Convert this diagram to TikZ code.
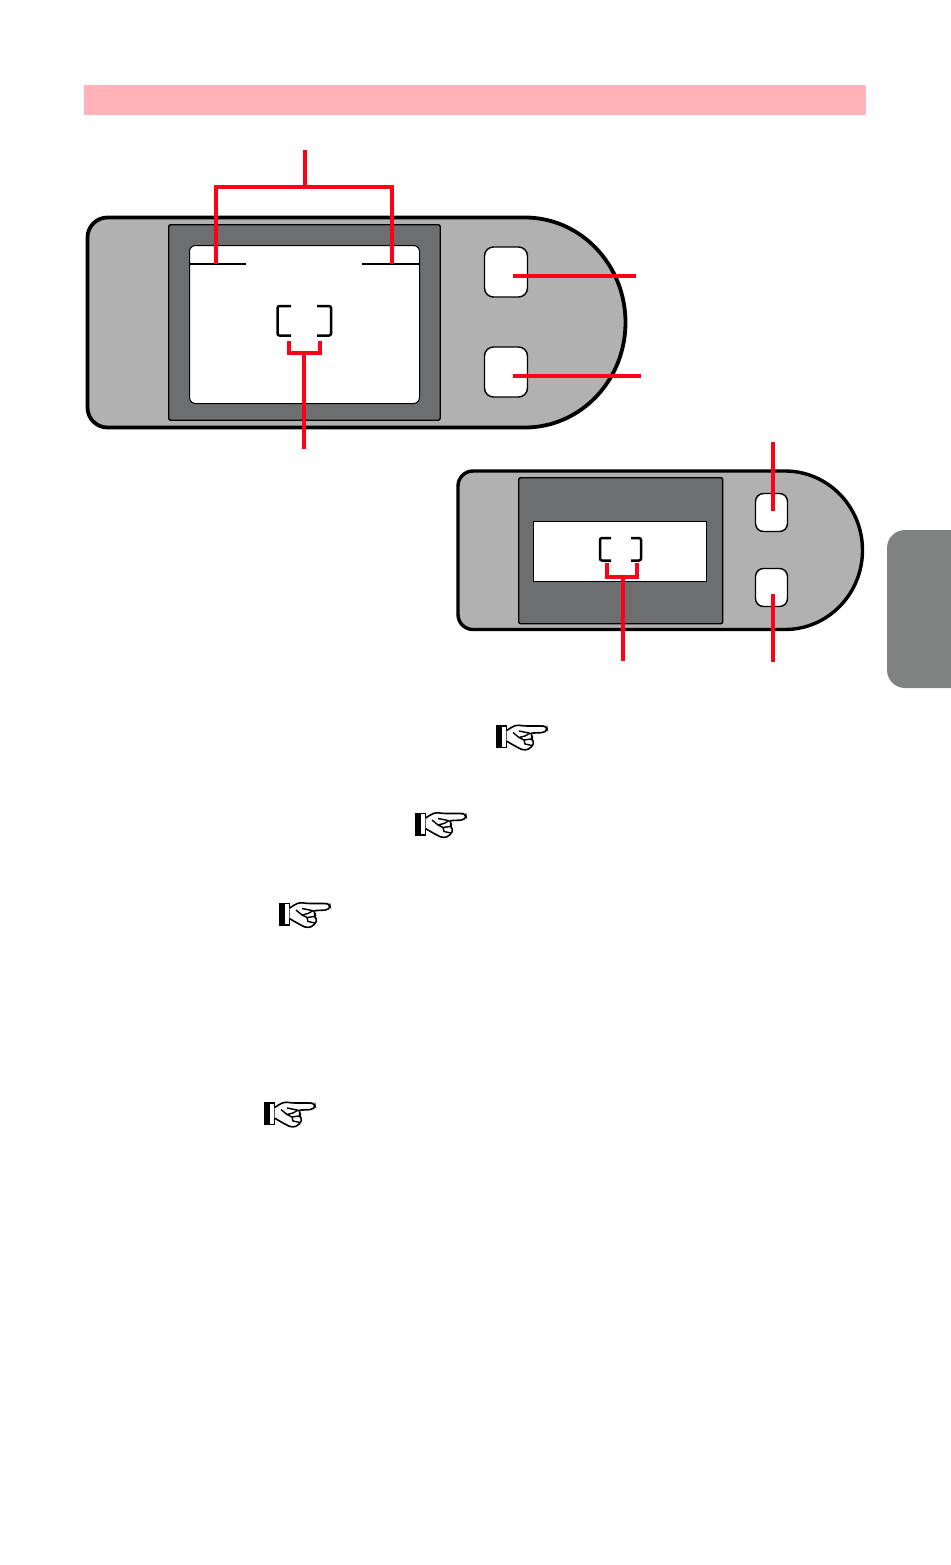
\documentclass[tikz,border=0pt]{standalone}
\usetikzlibrary{positioning}
\definecolor{barpink}{HTML}{FFB3B8}
\definecolor{tabgray}{HTML}{808281}
\definecolor{bodygray}{HTML}{B1B1B1}
\definecolor{screengray}{HTML}{6D6E70}
\definecolor{calloutred}{HTML}{FF0019}

\begin{document}
\begin{tikzpicture}[x=1pt,y=-1pt,
    bodyline/.style={draw=black,line width=3.8pt,fill=bodygray},
    screenbox/.style={draw=black,line width=1.4pt,fill=screengray,rounded corners=2pt,
      inner sep=0pt,anchor=north west},
    softkey/.style={draw=black,line width=1.4pt,fill=white,inner sep=0pt},
    frameline/.style={black,line width=2.5pt,rounded corners=2pt},
    callout/.style={calloutred,line width=4pt,line join=miter},
    handmark/.pic={
      \fill[black] (0,0) rectangle (5.5,22.5);
      \draw[black,line width=1.5pt] (0,0.7) -- (10.5,0.7) -- (10.5,21.8) -- (0,21.8);
      \draw[black,line width=1.6pt,fill=white,rounded corners=2pt] (10.7,5) -- (16,1.5) -- (20.7,-0.5) -- (29,0.5)
        -- (47,0.5) -- (50.7,1.5) -- (51.2,4.5) -- (48,7) -- (34,7.7) -- (37,11) -- (35,13.5) -- (38.5,17)
        -- (36,20) -- (34,23.3) -- (27.3,24.8) -- (19,20.5) -- (10.7,15.7);
      \draw[black,line width=1.4pt] (34,7.7) -- (23,5.5) (17,7) -- (23,12) -- (29,10.5) -- (34,7.7)
        (23,12) -- (28,14.5) -- (35,13.5) (28,14.5) -- (29,18.5) -- (36,20);
    }
  ]
  \useasboundingbox (0,0) rectangle (950,1565);
  % top band and side tab
  \node[fill=barpink,minimum width=782pt,minimum height=30pt,inner sep=0pt] (band) at (475,100) {};
  \fill[tabgray,rounded corners=18pt] (970,530) -- (887,530) -- (887,688) -- (970,688) -- cycle;

  % large unit
  \draw[bodyline] (525,217.5)
    arc[start angle=-90,end angle=90,x radius=100.5pt,y radius=-105pt]
    [rounded corners=20pt] -- (87.5,427.5) -- (87.5,217.5) [sharp corners] -- cycle;
  \node[screenbox,minimum width=271.5pt,minimum height=195.5pt] (largescreen) at (168,224) {};
  \node[draw=black,line width=1pt,fill=white,rounded corners=6pt,inner sep=0pt,anchor=north west,
    minimum width=230pt,minimum height=158pt] (largewindow) at (189,245) {};
  \draw[black,line width=2pt] (189,263.5) -- (246,263.5);
  \draw[black,line width=2pt] (362,263.5) -- (419,263.5);
  \draw[frameline] (291,306) -- (277.5,306) -- (277.5,335.5) -- (291,335.5);
  \draw[frameline] (317,306) -- (331,306) -- (331,335.5) -- (317,335.5);
  \node[softkey,rounded corners=9pt,minimum width=43pt,minimum height=50pt] (largekeyup) at (506,272) {};
  \node[softkey,rounded corners=9pt,minimum width=43pt,minimum height=50pt] (largekeydown) at (506,372) {};

  % small unit
  \draw[bodyline,line width=3.4pt] (785,471)
    arc[start angle=-90,end angle=90,x radius=77.5pt,y radius=-79.25pt]
    [rounded corners=15pt] -- (458,629.5) -- (458,471) [sharp corners] -- cycle;
  \node[screenbox,minimum width=204pt,minimum height=146pt] (smallscreen) at (518,477) {};
  \node[draw=black,line width=1pt,fill=white,inner sep=0pt,anchor=north west,
    minimum width=173pt,minimum height=60pt] (smallwindow) at (533,521) {};
  \draw[frameline] (611,538) -- (600,538) -- (600,560.5) -- (611,560.5);
  \draw[frameline] (631,538) -- (641,538) -- (641,560.5) -- (631,560.5);
  \node[softkey,rounded corners=8pt,minimum width=32pt,minimum height=38pt] (smallkeyup) at (771.5,512.5) {};
  \node[softkey,rounded corners=8pt,minimum width=32pt,minimum height=38pt] (smallkeydown) at (771.5,587.5) {};

  % callouts
  \coordinate (topstem) at (305,150);
  \coordinate (topjoin) at (305,187.5);
  \coordinate (topleft) at (216,264);
  \coordinate (topright) at (392,264);
  \draw[callout] (topleft) |- (topright |- topjoin) -- (topright);
  \draw[callout] (topstem) -- (topjoin);
  \coordinate (centerstem) at (304,449);
  \coordinate (centerleft) at (289,341);
  \coordinate (centerright) at (320,341);
  \draw[callout] (centerleft) -- (289,353) -- (320,353) -- (centerright);
  \draw[callout] (centerstem) -- (304,353);
  \coordinate (keyupend) at (636,275.7);
  \coordinate (keydownend) at (641,375.7);
  \draw[callout] (513,275.7) -- (keyupend);
  \draw[callout] (513,375.7) -- (keydownend);
  \coordinate (smallstem) at (623,661);
  \coordinate (smallleft) at (607,563);
  \coordinate (smallright) at (637,563);
  \draw[callout] (smallleft) -- (607,577) -- (637,577) -- (smallright);
  \draw[callout] (smallstem) -- (623,577);
  \coordinate (upkeystem) at (772.7,442);
  \coordinate (downkeystem) at (772.7,662);
  \draw[callout] (upkeystem) -- (772.7,511);
  \draw[callout] (downkeystem) -- (772.7,594);

  % pointing hands
  \pic (handone) at (496,725.5) {handmark};
  \pic (handtwo) at (415,813) {handmark};
  \pic (handthree) at (279,903) {handmark};
  \pic (handfour) at (264,1102.5) {handmark};
\end{tikzpicture}
\end{document}
